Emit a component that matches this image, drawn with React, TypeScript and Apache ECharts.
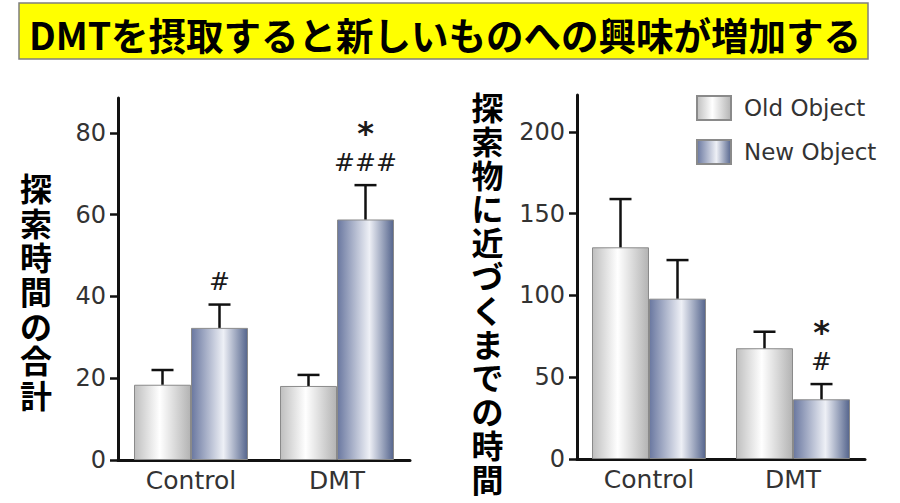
import React, { useEffect, useRef } from "react";
import * as echarts from "echarts";

const categories = ["Control", "DMT"];
const seriesNames = ["Old Object", "New Object"];

const leftOld = [18.4, 18.1];
const leftOldErr = [3.6, 2.7];
const leftNew = [32.3, 58.8];
const leftNewErr = [5.7, 8.4];
const leftNewHash = ["#", "###"];
const leftNewStar = ["", "*"];
const leftTicks = [0, 20, 40, 60, 80];
const leftMax = 88.5;

const rightOld = [129.4, 67.7];
const rightOldErr = [29.5, 10.1];
const rightNew = [98, 36.5];
const rightNewErr = [23.6, 9.3];
const rightNewHash = ["", "#"];
const rightNewStar = ["", "*"];
const rightTicks = [0, 50, 100, 150, 200];
const rightMax = 222.5;

const title = "DMTを摂取すると新しいものへの興味が増加する";
const leftYLabel = "探索時間の合計";
const rightYLabel = "探索物に近づくまでの時間";

const FONT = "DejaVu Sans";
const CJK = "'Noto Sans CJK JP'";
const BAR_W = 57;

const oldColor = new echarts.graphic.LinearGradient(0, 0, 1, 0, [
  { offset: 0, color: "#bfbfbf" },
  { offset: 0.45, color: "#ffffff" },
  { offset: 1, color: "#b3b3b3" },
]);
const newColor = new echarts.graphic.LinearGradient(0, 0, 1, 0, [
  { offset: 0, color: "#6a78a0" },
  { offset: 0.57, color: "#eef0f6" },
  { offset: 1, color: "#55658d" },
]);

function barSeries(name: string, idx: number, data: number[], color: any) {
  return {
    type: "bar",
    name,
    xAxisIndex: idx,
    yAxisIndex: idx,
    data,
    barWidth: BAR_W,
    barGap: "0%",
    itemStyle: { color, borderColor: "#8a8a8a", borderWidth: 1 },
    z: 2,
  };
}

function errSeries(
  idx: number,
  vals: number[],
  errs: number[],
  side: number,
  hashes: string[],
  stars: string[]
) {
  return {
    type: "custom",
    xAxisIndex: idx,
    yAxisIndex: idx,
    silent: true,
    z: 5,
    encode: { x: 0, y: 1 },
    data: vals.map((v, i) => [i, v, errs[i]]),
    renderItem: (params: any, api: any) => {
      const i = api.value(0);
      const v = api.value(1);
      const e = api.value(2);
      const base = api.coord([i, v]);
      const top = api.coord([i, v + e]);
      const x = base[0] + (side * BAR_W) / 2;
      const children: any[] = [
        {
          type: "line",
          shape: { x1: x, y1: base[1], x2: x, y2: top[1] },
          style: { stroke: "#111", lineWidth: 2.5 },
        },
        {
          type: "line",
          shape: { x1: x - 11, y1: top[1], x2: x + 11, y2: top[1] },
          style: { stroke: "#111", lineWidth: 2.5 },
        },
      ];
      const h = hashes[params.dataIndex];
      const s = stars[params.dataIndex];
      if (h) {
        children.push({
          type: "text",
          x,
          y: top[1] - 23,
          style: {
            text: h,
            fontSize: 25,
            fontFamily: FONT,
            fill: "#1a1a1a",
            align: "center",
            verticalAlign: "middle",
          },
        });
      }
      if (s) {
        children.push({
          type: "text",
          x,
          y: top[1] - 52,
          style: {
            text: s,
            fontSize: 32,
            fontWeight: "bold",
            fontFamily: FONT,
            fill: "#1a1a1a",
            align: "center",
            verticalAlign: "middle",
          },
        });
      }
      return { type: "group", children };
    },
  };
}

function yAxis(idx: number, max: number, ticks: number[]) {
  return {
    type: "value",
    gridIndex: idx,
    min: 0,
    max,
    splitLine: { show: false },
    axisLine: { show: true, lineStyle: { color: "#111", width: 3 } },
    axisTick: {
      show: true,
      length: 8,
      lineStyle: { color: "#111", width: 2.5 },
      customValues: ticks,
    },
    axisLabel: {
      fontFamily: FONT,
      fontSize: 24,
      color: "#333",
      margin: 12,
      customValues: ticks,
    },
  };
}

function xAxis(idx: number) {
  return {
    type: "category",
    gridIndex: idx,
    data: categories,
    axisLine: { show: true, lineStyle: { color: "#111", width: 3 } },
    axisTick: { show: false },
    axisLabel: { fontFamily: FONT, fontSize: 25, color: "#333", margin: 8 },
  };
}

export default function App() {
  const ref = useRef<HTMLDivElement>(null);
  useEffect(() => {
    document.body.style.margin = "0";
    const chart = echarts.init(ref.current!, null, { renderer: "svg" });
    chart.setOption({
      animation: false,
      backgroundColor: "#ffffff",
      grid: [
        { left: 118, right: 490, top: 98, bottom: 43 },
        { left: 577, right: 35, top: 95, bottom: 44 },
      ],
      xAxis: [xAxis(0), xAxis(1)],
      yAxis: [yAxis(0, leftMax, leftTicks), yAxis(1, rightMax, rightTicks)],
      legend: {
        data: seriesNames,
        orient: "vertical",
        left: 696,
        top: 95,
        padding: 0,
        itemWidth: 34,
        itemHeight: 24,
        itemGap: 18,
        icon: "rect",
        selectedMode: false,
        textStyle: {
          fontFamily: FONT,
          fontSize: 23,
          color: "#333",
          padding: [0, 0, 0, 8],
        },
      },
      series: [
        barSeries(seriesNames[0], 0, leftOld, oldColor),
        barSeries(seriesNames[1], 0, leftNew, newColor),
        barSeries(seriesNames[0], 1, rightOld, oldColor),
        barSeries(seriesNames[1], 1, rightNew, newColor),
        errSeries(0, leftOld, leftOldErr, -1, ["", ""], ["", ""]),
        errSeries(0, leftNew, leftNewErr, 1, leftNewHash, leftNewStar),
        errSeries(1, rightOld, rightOldErr, -1, ["", ""], ["", ""]),
        errSeries(1, rightNew, rightNewErr, 1, rightNewHash, rightNewStar),
      ],
      graphic: [
        {
          type: "rect",
          shape: { x: 19, y: 3, width: 849, height: 56 },
          style: { fill: "#ffff00", stroke: "#7f7f7f", lineWidth: 1.5 },
        },
        {
          type: "text",
          x: 445,
          y: 33,
          style: {
            text: title,
            fontFamily: CJK,
            fontWeight: "bold",
            fontSize: 37.5,
            fill: "#000",
            align: "center",
            verticalAlign: "middle",
          },
        },
        {
          type: "text",
          x: 36,
          y: 170,
          style: {
            text: leftYLabel.split("").join("\n"),
            fontFamily: CJK,
            fontWeight: "bold",
            fontSize: 32,
            lineHeight: 34.4,
            fill: "#000",
            align: "center",
            verticalAlign: "top",
          },
        },
        {
          type: "text",
          x: 487.5,
          y: 89,
          style: {
            text: rightYLabel.split("").join("\n"),
            fontFamily: CJK,
            fontWeight: "bold",
            fontSize: 32,
            lineHeight: 33.8,
            fill: "#000",
            align: "center",
            verticalAlign: "top",
          },
        },
      ],
    });
    return () => chart.dispose();
  }, []);
  return <div ref={ref} style={{ width: 900, height: 503 }} />;
}
